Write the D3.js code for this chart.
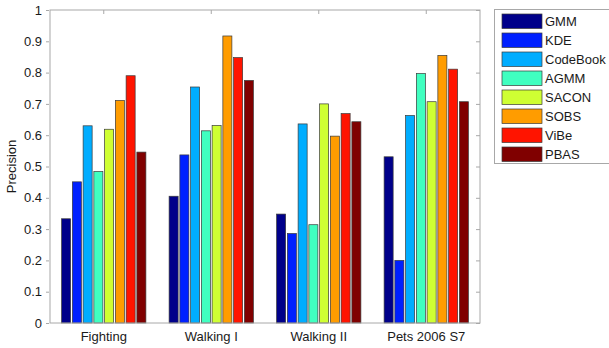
<!DOCTYPE html>
<html>
<head>
<meta charset="utf-8">
<script src="https://cdn.jsdelivr.net/npm/d3@7"></script>
<style>
  html, body { margin: 0; padding: 0; background: #fff; }
  svg { display: block; font-family: "Liberation Sans", Arial, sans-serif; }
</style>
</head>
<body>
<svg id="chart" width="609" height="348"></svg>
<script>
// Sequences and background-subtraction methods
const categories = ["Fighting", "Walking I", "Walking II", "Pets 2006 S7"];
const methods = ["GMM", "KDE", "CodeBook", "AGMM", "SACON", "SOBS", "ViBe", "PBAS"];
const methodColors = ["#00008a", "#0020ff", "#00adff", "#40ffc0", "#cfff33", "#ff9c00", "#ff1400", "#800000"];

// Precision per method, one value per sequence
const GMM      = [0.333, 0.405, 0.348, 0.531];
const KDE      = [0.451, 0.537, 0.286, 0.200];
const CodeBook = [0.630, 0.754, 0.636, 0.663];
const AGMM     = [0.484, 0.614, 0.314, 0.797];
const SACON    = [0.619, 0.631, 0.700, 0.707];
const SOBS     = [0.711, 0.917, 0.597, 0.855];
const ViBe     = [0.790, 0.848, 0.669, 0.811];
const PBAS     = [0.546, 0.775, 0.643, 0.707];
const seriesValues = [GMM, KDE, CodeBook, AGMM, SACON, SOBS, ViBe, PBAS];

const yTicks = [0, 0.1, 0.2, 0.3, 0.4, 0.5, 0.6, 0.7, 0.8, 0.9, 1];

const svg = d3.select("#chart");
const plot = { left: 50, top: 10, right: 480, bottom: 323 };

const x = d3.scaleBand().domain(categories).range([plot.left, plot.right]).padding(0);
const y = d3.scaleLinear().domain([0, 1]).range([plot.bottom, plot.top]);
const xInner = d3.scaleBand()
  .domain(methods)
  .range([x.bandwidth() * 0.1, x.bandwidth() * 0.9])
  .paddingInner(0.16)
  .paddingOuter(0.08);

const axisColor = "#a8a8a8";
const textColor = "#1a1a1a";

// Bars
const rows = [];
categories.forEach((c, ci) => {
  methods.forEach((m, mi) => rows.push({ c, m, v: seriesValues[mi][ci], color: methodColors[mi] }));
});

svg.append("g").selectAll("rect").data(rows).join("rect")
  .attr("x", d => x(d.c) + xInner(d.m))
  .attr("y", d => y(d.v))
  .attr("width", xInner.bandwidth())
  .attr("height", d => y(0) - y(d.v))
  .attr("fill", d => d.color)
  .attr("stroke", "#3a3a3a")
  .attr("stroke-width", 0.7);

// Axes box with ticks
const frame = svg.append("g");
frame.append("rect")
  .attr("x", plot.left).attr("y", plot.top)
  .attr("width", plot.right - plot.left).attr("height", plot.bottom - plot.top)
  .attr("fill", "none").attr("stroke", axisColor).attr("stroke-width", 1);

const yAxisL = d3.axisLeft(y).tickValues(yTicks).tickSize(3).tickPadding(4).tickFormat(d3.format("~g"));
const gL = frame.append("g").attr("transform", `translate(${plot.left - 1},0)`).call(yAxisL);
gL.select(".domain").remove();
gL.selectAll(".tick line").attr("stroke", axisColor);
gL.selectAll(".tick text").attr("fill", textColor).style("font-size", "13px")
  .style("font-family", "'Liberation Sans', Arial, sans-serif");

const yAxisR = d3.axisRight(y).tickValues(yTicks).tickSize(-4).tickFormat("");
const gR = frame.append("g").attr("transform", `translate(${plot.right},0)`).call(yAxisR);
gR.select(".domain").remove();
gR.selectAll(".tick line").attr("stroke", axisColor);

const xAxisT = d3.axisTop(x).tickSize(-4).tickFormat("");
const gT = frame.append("g").attr("transform", `translate(0,${plot.top})`).call(xAxisT);
gT.select(".domain").remove();
gT.selectAll(".tick line").attr("stroke", axisColor);

const xAxisB = d3.axisBottom(x).tickSize(0).tickPadding(9);
const gB = frame.append("g").attr("transform", `translate(0,${plot.bottom})`).call(xAxisB);
gB.select(".domain").remove();
gB.selectAll(".tick text").attr("fill", textColor).style("font-size", "13px")
  .style("font-family", "'Liberation Sans', Arial, sans-serif");

// Y label
svg.append("text")
  .attr("transform", `translate(16,${(plot.top + plot.bottom) / 2}) rotate(-90)`)
  .attr("text-anchor", "middle")
  .attr("fill", textColor)
  .style("font-size", "13px")
  .text("Precision");

// Legend
const legend = svg.append("g");
legend.append("rect")
  .attr("x", 494.5).attr("y", 9.5).attr("width", 118).attr("height", 154)
  .attr("fill", "#fff").attr("stroke", axisColor);

const legendY = d3.scalePoint().domain(methods).range([21, 154]);
const items = legend.selectAll("g.item").data(methods).join("g").attr("class", "item")
  .attr("transform", d => `translate(0,${legendY(d)})`);
items.append("rect")
  .attr("x", 502).attr("y", -7).attr("width", 40).attr("height", 14.5)
  .attr("fill", (d, i) => methodColors[i])
  .attr("stroke", "#3a3a3a").attr("stroke-width", 0.7);
items.append("text")
  .attr("x", 545).attr("y", 0).attr("dy", "0.38em")
  .attr("fill", textColor)
  .style("font-size", "13px")
  .text(d => d);
</script>
</body>
</html>
